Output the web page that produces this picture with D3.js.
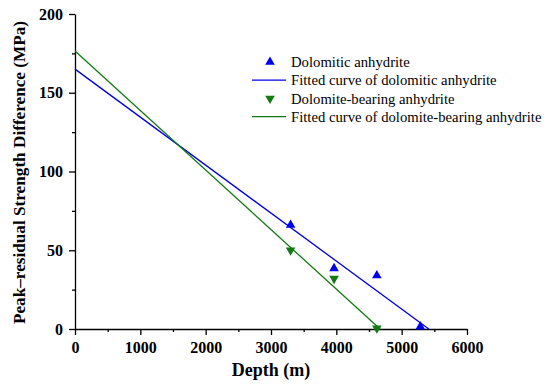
<!DOCTYPE html>
<html>
<head>
<meta charset="utf-8">
<script src="https://cdn.jsdelivr.net/npm/d3@7"></script>
<style>
  body { margin: 0; background: #fff; }
  .axis path, .axis line { stroke: #000; stroke-width: 1.3; }
  .axis text { font-size: 16px; font-weight: bold; fill: #000; }
</style>
</head>
<body>
<div class="chart"></div>
<script>
// DATA ------------------------------**
const dolomiticDepth = [3300, 3965, 4620, 5285];
const dolomiticValue = [66, 38.5, 34, 1.5];
const bearingDepth = [3300, 3965, 4620];
const bearingValue = [50, 32, 0.5];

// fitted lines: value = intercept + slope * depth, drawn from 0 to where it meets zero
const dolomiticFit = {intercept: 165, slope: -165 / 5415};
const bearingFit = {intercept: 176.5, slope: -176.5 / 4670};

const xTicks = [0, 1000, 2000, 3000, 4000, 5000, 6000];
const yTicks = [0, 50, 100, 150, 200];

const legendLabels = ['Dolomitic anhydrite', 'Fitted curve of dolomitic anhydrite',
  'Dolomite-bearing anhydrite', 'Fitted curve of dolomite-bearing anhydrite'];

const serif = "'Liberation Serif', 'Times New Roman', serif";

// CHART INIT ------------------------------**
const margin = {top: 14, right: 83, bottom: 57, left: 75};
const width = 550 - margin.left - margin.right;
const height = 386 - margin.top - margin.bottom;

const svg = d3.select('.chart').append('svg')
    .attr('width', 550)
    .attr('height', 386)
    .attr('font-family', serif)
    .append('g')
    .attr('transform', 'translate(' + margin.left + ',' + margin.top + ')');

let xScale = d3.scaleLinear().domain([0, 6000]).range([0, width]);
let yScale = d3.scaleLinear().domain([0, 200]).range([height, 0]);

// minor ticks
svg.append('g')
    .attr('class', 'axis')
    .attr('transform', 'translate(0,' + height + ')')
    .call(d3.axisBottom(xScale).tickValues(d3.range(500, 6000, 1000)).tickSize(3).tickFormat(''))
    .select('.domain').remove();
svg.append('g')
    .attr('class', 'axis')
    .call(d3.axisLeft(yScale).tickValues(d3.range(25, 200, 50)).tickSize(3).tickFormat(''))
    .select('.domain').remove();

// major axes
svg.append('g')
    .attr('class', 'axis x-axis')
    .attr('transform', 'translate(0,' + height + ')')
    .call(d3.axisBottom(xScale).tickValues(xTicks).tickFormat(d3.format('d'))
        .tickSize(6).tickSizeOuter(0).tickPadding(7));

svg.append('g')
    .attr('class', 'axis y-axis')
    .call(d3.axisLeft(yScale).tickValues(yTicks).tickFormat(d3.format('d'))
        .tickSize(6).tickSizeOuter(0).tickPadding(6));

svg.selectAll('.axis').attr('font-family', serif);

// axis titles
svg.append('text')
    .attr('x', width / 2)
    .attr('y', height + 47)
    .attr('text-anchor', 'middle')
    .attr('font-family', serif)
    .style('font-size', '18px')
    .style('font-weight', 'bold')
    .text('Depth (m)');

svg.append('text')
    .attr('transform', 'translate(' + (-50) + ',' + (height / 2 + 1) + ') rotate(-90)')
    .attr('text-anchor', 'middle')
    .attr('font-family', serif)
    .style('font-size', '17.2px')
    .style('font-weight', 'bold')
    .text('Peak\u2013residual Strength Difference (MPa)');

// fitted lines
const line = d3.line().x(d => xScale(d[0])).y(d => yScale(d[1]));
function fitPoints(f) {
    return [[0, f.intercept], [-f.intercept / f.slope, 0]];
}
svg.append('path')
    .datum(fitPoints(dolomiticFit))
    .attr('d', line)
    .attr('fill', 'none')
    .attr('stroke', '#0000e0')
    .attr('stroke-width', 1.3);
svg.append('path')
    .datum(fitPoints(bearingFit))
    .attr('d', line)
    .attr('fill', 'none')
    .attr('stroke', '#137a13')
    .attr('stroke-width', 1.3);

// points
const tri = d3.symbol().type(d3.symbolTriangle).size(40);
svg.selectAll('.dolo')
    .data(dolomiticDepth.map((d, i) => [d, dolomiticValue[i]]))
    .enter().append('path')
    .attr('class', 'dolo')
    .attr('d', tri)
    .attr('fill', '#0000ee')
    .attr('transform', d => 'translate(' + xScale(d[0]) + ',' + yScale(d[1]) + ')');

svg.selectAll('.bear')
    .data(bearingDepth.map((d, i) => [d, bearingValue[i]]))
    .enter().append('path')
    .attr('class', 'bear')
    .attr('d', tri)
    .attr('fill', '#137a13')
    .attr('transform', d => 'translate(' + xScale(d[0]) + ',' + yScale(d[1]) + ') rotate(180)');

// legend
const legend = svg.append('g')
    .attr('transform', 'translate(' + (252 - margin.left) + ',' + (62 - margin.top) + ')');
const legendColors = ['#0000ee', '#0000e0', '#137a13', '#137a13'];
legendLabels.forEach((lab, i) => {
    const g = legend.append('g').attr('transform', 'translate(0,' + (i * 18.2) + ')');
    if (i % 2 === 0) {
        g.append('path')
            .attr('d', tri)
            .attr('fill', legendColors[i])
            .attr('transform', 'translate(18,0)' + (i === 2 ? ' rotate(180)' : ''));
    } else {
        g.append('line')
            .attr('x1', 0).attr('x2', 34)
            .attr('stroke', legendColors[i])
            .attr('stroke-width', 1.3);
    }
    g.append('text')
        .attr('x', 39)
        .attr('dy', '0.35em')
        .attr('font-family', serif)
        .style('font-size', '14.7px')
        .text(lab);
});
</script>
</body>
</html>
